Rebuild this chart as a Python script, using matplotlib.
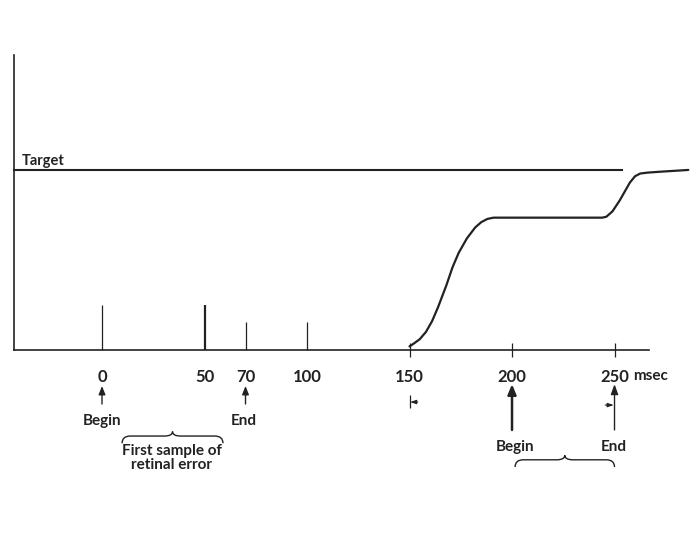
import numpy as np
import matplotlib
matplotlib.use("Agg")
import matplotlib.pyplot as plt
from matplotlib.path import Path
from matplotlib.patches import PathPatch

# time axis (msec)
tick_values = [0, 50, 70, 100, 150, 200, 250]
tick_labels = ["0", "50", "70", "100", "150", "200", "250"]

# vertical markers standing on the baseline (height in target units)
marker_times = [0, 50, 70, 100]
marker_heights = [0.25, 0.25, 0.155, 0.155]
marker_widths = [0.9, 1.6, 0.9, 0.9]

# eye position trace (fraction of target)
eye_t = [150, 152, 155, 158, 161, 164, 168, 171, 174, 178, 182, 185, 188, 191,
         244, 246, 249, 252.5, 255, 257.5, 260, 262.5, 266, 272, 279, 286]
eye_v = [0.02, 0.035, 0.06, 0.1, 0.16, 0.24, 0.36, 0.46, 0.54, 0.62, 0.68, 0.71, 0.728, 0.735,
         0.735, 0.74, 0.77, 0.83, 0.88, 0.93, 0.965, 0.98, 0.985, 0.99, 0.995, 1.0]

target_level = 1.0
target_end = 253.7

fig = plt.figure(figsize=(7, 5.5), dpi=100)
ax = fig.add_axes([0, 0, 1, 1])
ax.set_xlim(-49.76, 291.7)
ax.set_ylim(-1.111, 1.944)

ink = "#222222"
font = "Lato"

# axes frame
for side in ["top", "right"]:
    ax.spines[side].set_visible(False)
ax.spines["left"].set_position(("data", -42.9))
ax.spines["left"].set_bounds(0, 1.64)
ax.spines["bottom"].set_position(("data", 0))
ax.spines["bottom"].set_bounds(-42.9, 266.8)
for side in ["left", "bottom"]:
    ax.spines[side].set_color(ink)
    ax.spines[side].set_linewidth(1.2)
ax.set_yticks([])
ax.set_xticks(tick_values)
ax.set_xticklabels(tick_labels, fontsize=12, fontfamily=font, fontweight="bold", color=ink)
ax.tick_params(axis="x", length=0, pad=14)

# small crossing ticks at 150, 200, 250
ax.vlines([150, 200, 250], -0.04, 0.04, color=ink, lw=0.9)

# markers above baseline
for t, h, w in zip(marker_times, marker_heights, marker_widths):
    ax.vlines(t, 0, h, color=ink, lw=w)

# target
ax.plot([-42.9, target_end], [target_level, target_level], color=ink, lw=1.5)
ax.text(-39, 1.01, "Target", fontsize=10.5, fontfamily=font, fontweight="bold",
        color=ink, va="bottom", ha="left")

# eye trace
ax.plot(eye_t, eye_v, color=ink, lw=1.6, solid_capstyle="round")

ax.text(259, -0.142, "msec", fontsize=11, fontfamily=font, fontweight="bold",
        color=ink, va="center", ha="left")


def arrow(t, y0, y1, lw=1.0, hw=0.2, hl=0.5):
    ax.annotate("", xy=(t, y1), xytext=(t, y0),
                arrowprops=dict(arrowstyle="-|>,head_width=%s,head_length=%s" % (hw, hl),
                                color=ink, lw=lw, shrinkA=0, shrinkB=0))


arrow(0, -0.3, -0.2)
arrow(70, -0.3, -0.2)
arrow(200, -0.444, -0.19, lw=1.8, hw=0.25, hl=0.6)
arrow(250, -0.444, -0.19, lw=1.0, hw=0.22, hl=0.6)

# small side arrows
ax.vlines(150, -0.25, -0.322, color=ink, lw=0.9)
ax.annotate("", xy=(150.3, -0.289), xytext=(154, -0.289),
            arrowprops=dict(arrowstyle="-|>,head_width=0.12,head_length=0.35",
                            color=ink, lw=0.8, shrinkA=0, shrinkB=0))
ax.annotate("", xy=(249.6, -0.306), xytext=(245.5, -0.306),
            arrowprops=dict(arrowstyle="-|>,head_width=0.12,head_length=0.35",
                            color=ink, lw=0.8, shrinkA=0, shrinkB=0))

lab = dict(fontsize=11, fontfamily=font, fontweight="bold", color=ink,
           ha="center", va="center")
ax.text(0, -0.394, "Begin", **lab)
ax.text(69.3, -0.394, "End", **lab)
ax.text(201.5, -0.539, "Begin", **lab)
ax.text(249.5, -0.539, "End", **lab)
ax.text(34, -0.6, "First sample of\nretinal error", linespacing=1.05, **lab)


def brace(x0, x1, y, depth=0.04):
    xm = (x0 + x1) / 2
    r = 4.0
    verts = [(x0, y - depth), (x0, y), (x0 + r, y),
             (xm - r, y), (xm, y), (xm, y + 0.025),
             (xm, y), (xm + r, y),
             (x1 - r, y), (x1, y), (x1, y - depth)]
    codes = [Path.MOVETO, Path.CURVE3, Path.CURVE3,
             Path.LINETO, Path.CURVE3, Path.CURVE3,
             Path.CURVE3, Path.CURVE3,
             Path.LINETO, Path.CURVE3, Path.CURVE3]
    ax.add_patch(PathPatch(Path(verts, codes), fill=False, ec=ink, lw=1.0))


brace(9.8, 59, -0.478)
brace(201.5, 250, -0.61)

fig.savefig("out.png", dpi=100)
